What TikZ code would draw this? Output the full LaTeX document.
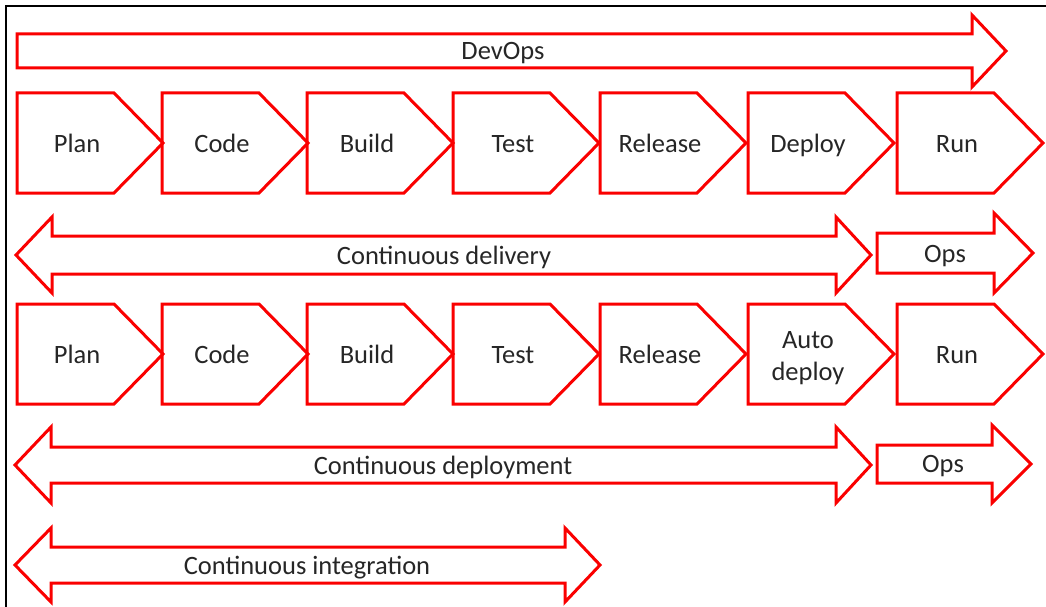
\documentclass[tikz,border=0pt]{standalone}
\usepackage{fontspec}
\setmainfont{Carlito}
\definecolor{rd}{RGB}{250,0,0}
\begin{document}
\begin{tikzpicture}[x=1pt,y=-1pt,
  shp/.style={draw=rd,line width=3pt,line join=miter},
  lbl/.style={font=\fontsize{26.5}{32}\selectfont,text=black!85,align=center,inner sep=0pt,anchor=base},
  frame/.style={draw=black,line width=1.2pt}]
\useasboundingbox (0,0) rectangle (1046,607);
\draw[frame] (6,607) -- (6,6) -- (1046,6);
% DevOps arrow
\draw[shp] (17,34) -- (972,34) -- (972,15) -- (1006,51) -- (972,87) -- (972,68) -- (17,68) -- cycle;
\node[lbl] (devops) at (503,60) {DevOps};
% chevrons
\newcommand{\chevron}[4]{%
  \draw[shp] (#1,#2) -- (#1+97,#2) -- (#1+146,#2+50) -- (#1+97,#2+100) -- (#1,#2+100) -- cycle;
  \node[lbl] (#3) at (#1+60,#2+59) {#4};}
\chevron{17}{93}{plan1}{Plan}
\chevron{162}{93}{code1}{Code}
\chevron{307}{93}{build1}{Build}
\chevron{453}{93}{test1}{Test}
\chevron{600}{93}{release1}{Release}
\chevron{748}{93}{deploy1}{Deploy}
\chevron{897}{93}{run1}{Run}
\chevron{17}{304}{plan2}{Plan}
\chevron{162}{304}{code2}{Code}
\chevron{307}{304}{build2}{Build}
\chevron{453}{304}{test2}{Test}
\chevron{600}{304}{release2}{Release}
\draw[shp] (748,304) -- (845,304) -- (894,354) -- (845,404) -- (748,404) -- cycle;
\node[lbl] (deploy2a) at (808,348) {Auto};
\node[lbl] (deploy2b) at (808,380) {deploy};
\chevron{897}{304}{run2}{Run}
% double arrows: #1 left tip x, #2 right tip x, #3 center y, #4 half shaft, #5 half head
\newcommand{\dblarrow}[5]{%
  \draw[shp] (#1,#3) -- (#1+36,#3-#5) -- (#1+36,#3-#4) -- (#2-35,#3-#4) -- (#2-35,#3-#5) -- (#2,#3)
    -- (#2-35,#3+#5) -- (#2-35,#3+#4) -- (#1+36,#3+#4) -- (#1+36,#3+#5) -- cycle;}
\newcommand{\sglarrow}[5]{%
  \draw[shp] (#1,#3-#4) -- (#2-39,#3-#4) -- (#2-39,#3-#5) -- (#2,#3) -- (#2-39,#3+#5) -- (#2-39,#3+#4) -- (#1,#3+#4) -- cycle;}
\dblarrow{16}{871}{255}{19}{38}
\node[lbl] (cdel) at (444,264) {Continuous delivery};
\sglarrow{877}{1033}{253}{20}{40}
\node[lbl] (ops1) at (945,262) {Ops};
\dblarrow{15}{871}{465}{18}{38}
\node[lbl] (cdep) at (443,474) {Continuous deployment};
\sglarrow{877}{1031}{464}{19}{39}
\node[lbl] (ops2) at (943,472) {Ops};
\dblarrow{15}{600}{565}{18}{37}
\node[lbl] (cint) at (307,574) {Continuous integration};
\end{tikzpicture}
\end{document}
